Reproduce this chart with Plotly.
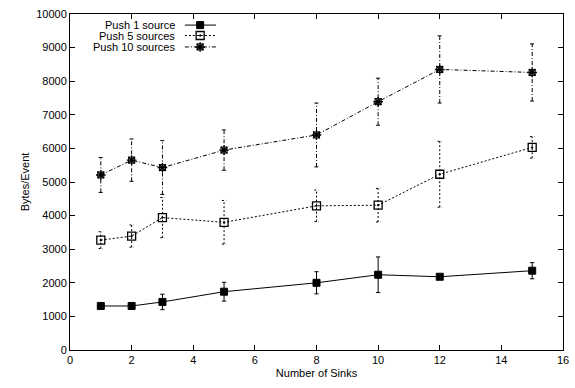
import plotly.graph_objects as go

sinks = [1, 2, 3, 5, 8, 10, 12, 15]

push1 = [1310, 1310, 1430, 1735, 2000, 2240, 2180, 2360]
push1_err = [90, 40, 230, 280, 330, 530, 40, 240]

push5 = [3270, 3390, 3940, 3800, 4290, 4310, 5230, 6030]
push5_err = [250, 330, 600, 650, 470, 500, 980, 320]

push10 = [5210, 5650, 5430, 5950, 6400, 7390, 8350, 8260]
push10_err = [520, 630, 800, 600, 950, 700, 1000, 850]

names = ["Push 1 source", "Push 5 sources", "Push 10 sources"]
x_ticks = [0, 2, 4, 6, 8, 10, 12, 14, 16]
y_ticks = [0, 1000, 2000, 3000, 4000, 5000, 6000, 7000, 8000, 9000, 10000]
y_tick_text = [str(v) for v in y_ticks]

FONT = "Liberation Sans, Arial, sans-serif"
series = [
    (push1, push1_err, "solid", "square", 7, 1),
    (push5, push5_err, "2px,2px", "square-open-dot", 8, 1.3),
    (push10, push10_err, "4px,2px,1px,2px", "asterisk-open", 8, 1.4),
]

fig = go.Figure()
cap = 0.07
for (vals, errs, dash, sym, msz, mlw), name in zip(series, names):
    ex, ey = [], []
    for x, y, e in zip(sinks, vals, errs):
        ex += [x, x, None, x - cap, x + cap, None, x - cap, x + cap, None]
        ey += [y - e, y + e, None, y - e, y - e, None, y + e, y + e, None]
    fig.add_trace(go.Scatter(x=ex, y=ey, mode="lines", showlegend=False,
                             line=dict(color="black", width=1, dash=dash),
                             hoverinfo="skip"))
    fig.add_trace(go.Scatter(x=sinks, y=vals, mode="lines+markers", name=name,
                             showlegend=False,
                             line=dict(color="black", width=1, dash=dash),
                             marker=dict(symbol=sym, size=msz, color="black",
                                         line=dict(color="black", width=mlw))))
    if sym == "asterisk-open":
        fig.add_trace(go.Scatter(x=sinks, y=vals, mode="markers", showlegend=False,
                                 hoverinfo="skip",
                                 marker=dict(symbol="square-open", size=6, color="black",
                                             line=dict(color="black", width=1))))

# custom gnuplot-style legend (text right-aligned, sample to the right)
leg_y = [0.967, 0.936, 0.902]
for (vals, errs, dash, sym, msz, mlw), name, ly in zip(series, names, leg_y):
    fig.add_trace(go.Scatter(x=[0.233, 0.264, 0.296], y=[ly, ly, ly],
                             xaxis="x2", yaxis="y2", mode="lines",
                             showlegend=False, hoverinfo="skip",
                             line=dict(color="black", width=1, dash=dash)))
    fig.add_trace(go.Scatter(x=[0.264], y=[ly], xaxis="x2", yaxis="y2",
                             mode="markers", showlegend=False, hoverinfo="skip",
                             marker=dict(symbol=sym, size=msz, color="black",
                                         line=dict(color="black", width=mlw))))
    if sym == "asterisk-open":
        fig.add_trace(go.Scatter(x=[0.264], y=[ly], xaxis="x2", yaxis="y2",
                                 mode="markers", showlegend=False, hoverinfo="skip",
                                 marker=dict(symbol="square-open", size=6, color="black",
                                             line=dict(color="black", width=1))))
    fig.add_annotation(x=0.217, y=ly, xref="x2", yref="y2", text=name,
                       showarrow=False, xanchor="right", yanchor="middle",
                       font=dict(family=FONT, size=11, color="black"))

axis_common = dict(showline=True, linecolor="black", linewidth=1, mirror="allticks",
                   ticks="inside", ticklen=5, tickcolor="black", showgrid=False,
                   zeroline=False, automargin=False,
                   tickfont=dict(family=FONT, size=11, color="black"))

fig.update_layout(
    width=575, height=388,
    margin=dict(l=70, r=12, t=14, b=38),
    paper_bgcolor="white", plot_bgcolor="white",
    showlegend=False,
    xaxis=dict(range=[0, 16], tickvals=x_ticks, **axis_common,
               title=dict(text="Number of Sinks", standoff=4,
                          font=dict(family=FONT, size=11, color="black"))),
    yaxis=dict(range=[0, 10000], tickvals=y_ticks, ticktext=y_tick_text, **axis_common,
               title=dict(text="Bytes/Event", standoff=4,
                          font=dict(family=FONT, size=11, color="black"))),
    xaxis2=dict(range=[0, 1], overlaying="x", visible=False, fixedrange=True),
    yaxis2=dict(range=[0, 1], overlaying="y", visible=False, fixedrange=True),
)

fig.write_html("out.html", config={"displayModeBar": False},
               post_script="document.body.style.margin='0px';document.body.style.overflow='hidden';")
